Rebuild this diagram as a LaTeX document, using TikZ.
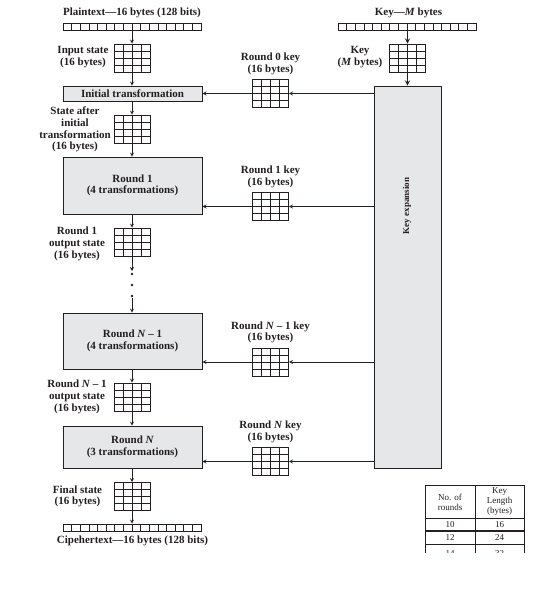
\documentclass[tikz,border=0pt]{standalone}
\usepackage{fontspec}
\setmainfont{Liberation Serif}
\usetikzlibrary{positioning,calc}
\definecolor{ink}{HTML}{231F20}
\definecolor{boxgray}{HTML}{E6E7E8}

\begin{document}
\begin{tikzpicture}[>=stealth,x=1pt,y=-1pt,color=ink,line width=0.8pt,
    lbl/.style={font=\fontsize{11}{11.7}\selectfont\bfseries,align=center,inner sep=0pt},
    tbl/.style={font=\fontsize{9}{10}\selectfont,align=center,inner sep=0pt},
    stage/.style={draw,fill=boxgray,minimum width=139pt,inner sep=0pt,
        font=\fontsize{11}{11.7}\selectfont\bfseries,align=center},
    statebox/.style={draw,minimum width=36pt,minimum height=28pt,inner sep=0pt,
        path picture={
            \foreach \i in {1,2,3} {
                \draw[line width=0.7pt]
                    ($(path picture bounding box.north west)!\i/4!(path picture bounding box.north east)$) --
                    ($(path picture bounding box.south west)!\i/4!(path picture bounding box.south east)$);
                \draw[line width=0.7pt]
                    ($(path picture bounding box.north west)!\i/4!(path picture bounding box.south west)$) --
                    ($(path picture bounding box.north east)!\i/4!(path picture bounding box.south east)$);
            }}},
    bytebar/.style={draw,minimum width=138pt,minimum height=7pt,inner sep=0pt,
        path picture={
            \foreach \i in {1,...,15}
                \draw[line width=0.7pt]
                    ($(path picture bounding box.north west)!\i/16!(path picture bounding box.north east)$) --
                    ($(path picture bounding box.south west)!\i/16!(path picture bounding box.south east)$);
            }},
    dot/.style={circle,fill=ink,inner sep=0pt,minimum size=2.6pt}]
    \useasboundingbox (0,0) rectangle (534,597);

    % data path
    \node[lbl] (plain) at (132,13) {Plaintext---16 bytes (128 bits)};
    \node[bytebar] (pbar) at (132,27) {};
    \node[statebox] (s0) at (132,58) {};
    \node[lbl] (s0lbl) at (83,57) {Input state\\(16 bytes)};
    \node[stage,minimum height=15pt] (init) at (132.5,93.5) {Initial transformation};
    \node[statebox] (s1) at (132,129) {};
    \node[lbl] (s1lbl) at (75,129.5) {State after\\initial\\transformation\\(16 bytes)};
    \node[stage,minimum height=57pt] (r1) at (132.5,185.5) {Round 1\\(4 transformations)};
    \node[statebox] (s2) at (132,242) {};
    \node[lbl] (s2lbl) at (77,244) {Round 1\\output state\\(16 bytes)};
    \coordinate (d0) at (132,271);
    \node[dot] (d1) at (132,274) {};
    \node[dot] (d2) at (132,285) {};
    \node[dot] (d3) at (132,296) {};
    \node[stage,minimum height=56pt] (rn1) at (132.5,341) {Round \textit{N} -- 1\\(4 transformations)};
    \node[statebox] (s3) at (132,397) {};
    \node[lbl] (s3lbl) at (77,397) {Round \textit{N} -- 1\\output state\\(16 bytes)};
    \node[stage,minimum height=42pt] (rn) at (132.5,447) {Round \textit{N}\\(3 transformations)};
    \node[statebox] (s4) at (132,496.5) {};
    \node[lbl] (s4lbl) at (77.5,496.5) {Final state\\(16 bytes)};
    \node[bytebar] (cbar) at (132,527.5) {};
    \node[lbl] (ciph) at (132.5,541) {Cipehertext---16 bytes (128 bits)};

    \draw[->] (pbar.south) -- (s0.north);
    \draw[->] (s0.south) -- (init.north -| s0);
    \draw[->] (init.south -| s1) -- (s1.north);
    \draw[->] (s1.south) -- (r1.north -| s1);
    \draw[->] (r1.south -| s2) -- (s2.north);
    \draw[->] (s2.south) -- (d0);
    \draw[->] (d3) -- (rn1.north -| d3);
    \draw[->] (rn1.south -| s3) -- (s3.north);
    \draw[->] (s3.south) -- (rn.north -| s3);
    \draw[->] (rn.south -| s4) -- (s4.north);
    \draw[->] (s4.south) -- (cbar.north -| s4);

    % key path
    \node[lbl] (key) at (408.5,13) {Key---\textit{M} bytes};
    \node[bytebar] (kbar) at (407,26.5) {};
    \node[statebox] (kin) at (407.5,58) {};
    \node[lbl] (kinlbl) at (360,57) {Key\\(\textit{M} bytes)};
    \node[draw,fill=boxgray,minimum width=67pt,minimum height=382pt,inner sep=0pt] (kexp) at (407.5,277) {};
    \node[lbl,font=\fontsize{9}{10}\selectfont\bfseries,rotate=90] (kexplbl) at (407,206) {Key expansion};

    \draw[->,line width=1.3pt] (kbar.south -| kin) -- (kin.north);
    \draw[->,line width=1.3pt] (kin.south) -- (kexp.north -| kin);

    % round keys
    \node[statebox] (k0) at (270.5,93.5) {};
    \node[lbl,above=4pt of k0] (k0lbl) {Round 0 key\\(16 bytes)};
    \node[statebox] (k1) at (270.5,206.5) {};
    \node[lbl,above=4pt of k1] (k1lbl) {Round 1 key\\(16 bytes)};
    \node[statebox] (kn1) at (270.5,362) {};
    \node[lbl,above=4pt of kn1] (kn1lbl) {Round \textit{N} -- 1 key\\(16 bytes)};
    \node[statebox] (kn) at (270.5,461.5) {};
    \node[lbl,above=4pt of kn] (knlbl) {Round \textit{N} key\\(16 bytes)};

    \draw[->] (kexp.west |- k0) -- (k0.east);
    \draw[->] (k0.west) -- (init.east |- k0);
    \draw[->] (kexp.west |- k1) -- (k1.east);
    \draw[->] (k1.west) -- (r1.east |- k1);
    \draw[->] (kexp.west |- kn1) -- (kn1.east);
    \draw[->] (kn1.west) -- (rn1.east |- kn1);
    \draw[->] (kexp.west |- kn) -- (kn.east);
    \draw[->] (kn.west) -- (rn.east |- kn);

    % table of rounds
    \begin{scope}
        \clip (418,480) rectangle (530,552);
        \draw[line width=0.6pt] (425.5,485) rectangle (524,570);
        \draw[line width=0.6pt] (475,485) -- (475,570);
        \draw[line width=0.6pt] (425.5,518) -- (524,518);
        \draw[line width=1.6pt] (425.5,531) -- (524,531);
        \draw[line width=0.6pt] (425.5,544) -- (524,544);
        \node[tbl] (hrounds) at (450,502) {No. of\\rounds};
        \node[tbl] (hkey) at (499.5,502) {Key\\Length\\(bytes)};
        \node[tbl] (n10) at (450,524.5) {10};
        \node[tbl] (l16) at (499.5,524.5) {16};
        \node[tbl] (n12) at (450,537.5) {12};
        \node[tbl] (l24) at (499.5,537.5) {24};
        \node[tbl] (n14) at (450,554) {14};
        \node[tbl] (l32) at (499.5,554) {32};
    \end{scope}
\end{tikzpicture}
\end{document}
